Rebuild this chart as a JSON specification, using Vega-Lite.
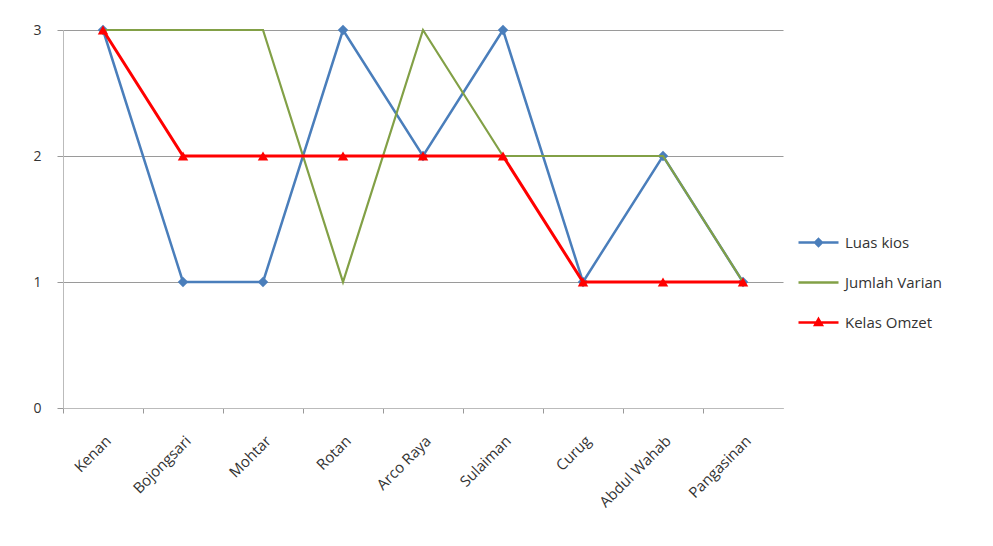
{
  "$schema": "https://vega.github.io/schema/vega-lite/v6.json",
  "width": 720,
  "height": 378,
  "autosize": {"type": "none"},
  "padding": {"left": 63, "top": 30, "right": 210, "bottom": 138},
  "background": "white",
  "config": {
    "view": {"stroke": null},
    "font": "Open Sans",
    "axis": {"labelFont": "Open Sans", "labelColor": "#333", "labelFontSize": 15}
  },
  "data": {
    "values": [
      {"kios": "Kenan", "series": "Luas kios", "v": 3},
      {"kios": "Bojongsari", "series": "Luas kios", "v": 1},
      {"kios": "Mohtar", "series": "Luas kios", "v": 1},
      {"kios": "Rotan", "series": "Luas kios", "v": 3},
      {"kios": "Arco Raya", "series": "Luas kios", "v": 2},
      {"kios": "Sulaiman", "series": "Luas kios", "v": 3},
      {"kios": "Curug", "series": "Luas kios", "v": 1},
      {"kios": "Abdul Wahab", "series": "Luas kios", "v": 2},
      {"kios": "Pangasinan", "series": "Luas kios", "v": 1},
      {"kios": "Kenan", "series": "Jumlah Varian", "v": 3},
      {"kios": "Bojongsari", "series": "Jumlah Varian", "v": 3},
      {"kios": "Mohtar", "series": "Jumlah Varian", "v": 3},
      {"kios": "Rotan", "series": "Jumlah Varian", "v": 1},
      {"kios": "Arco Raya", "series": "Jumlah Varian", "v": 3},
      {"kios": "Sulaiman", "series": "Jumlah Varian", "v": 2},
      {"kios": "Curug", "series": "Jumlah Varian", "v": 2},
      {"kios": "Abdul Wahab", "series": "Jumlah Varian", "v": 2},
      {"kios": "Pangasinan", "series": "Jumlah Varian", "v": 1},
      {"kios": "Kenan", "series": "Kelas Omzet", "v": 3},
      {"kios": "Bojongsari", "series": "Kelas Omzet", "v": 2},
      {"kios": "Mohtar", "series": "Kelas Omzet", "v": 2},
      {"kios": "Rotan", "series": "Kelas Omzet", "v": 2},
      {"kios": "Arco Raya", "series": "Kelas Omzet", "v": 2},
      {"kios": "Sulaiman", "series": "Kelas Omzet", "v": 2},
      {"kios": "Curug", "series": "Kelas Omzet", "v": 1},
      {"kios": "Abdul Wahab", "series": "Kelas Omzet", "v": 1},
      {"kios": "Pangasinan", "series": "Kelas Omzet", "v": 1}
    ]
  },
  "encoding": {
    "x": {
      "field": "kios", "type": "nominal", "sort": null,
      "scale": {"type": "point", "padding": 0.5},
      "axis": {"title": null, "labelAngle": -45, "domainColor": "#bbb", "tickColor": "#999", "tickSize": 5, "tickOffset": -40, "labelOffset": 40, "labelPadding": 20, "grid": false}
    },
    "y": {
      "field": "v", "type": "quantitative",
      "scale": {"domain": [0, 3], "nice": false},
      "axis": {"title": null, "values": [0, 1, 2, 3], "format": "d", "grid": true, "gridColor": "#9a9a9a", "gridWidth": 1.2, "domainColor": "#bbb", "tickColor": "#999", "tickSize": 6, "labelPadding": 16, "labelFontSize": 14}
    },
    "color": {
      "field": "series", "type": "nominal",
      "scale": {"domain": ["Luas kios", "Jumlah Varian", "Kelas Omzet"], "range": ["#4a7ebb", "#82a046", "#ff0000"]},
      "legend": {
        "title": null, "orient": "none", "legendX": 734, "legendY": 191,
        "symbolType": "stroke", "symbolSize": 1600, "symbolStrokeWidth": 2.5,
        "labelFontSize": 15, "labelColor": "#333", "labelFont": "Open Sans", "rowPadding": 10, "labelOffset": 5,
        "encode": {
          "symbols": {
            "update": {
              "shape": {"signal": "datum.value == 'Luas kios' ? 'M-1,0L1,0M0,-0.17L0.17,0L0,0.17L-0.17,0Z' : datum.value == 'Kelas Omzet' ? 'M-1,0L1,0M0,-0.17L0.17,0.13L-0.17,0.13Z' : 'M-1,0L1,0'"},
              "fill": {"scale": "color", "field": "value"},
              "fillOpacity": {"value": 1}
            }
          }
        }
      }
    },
    "order": {"field": "series"}
  },
  "layer": [
    {
      "transform": [{"filter": "datum.series == 'Luas kios'"}],
      "mark": {"type": "line", "strokeWidth": 2.5}
    },
    {
      "transform": [{"filter": "datum.series == 'Luas kios'"}],
      "mark": {"type": "point", "shape": "diamond", "filled": true, "size": 110, "opacity": 1}
    },
    {
      "transform": [{"filter": "datum.series == 'Jumlah Varian'"}],
      "mark": {"type": "line", "strokeWidth": 2.2}
    },
    {
      "transform": [{"filter": "datum.series == 'Kelas Omzet'"}],
      "mark": {"type": "line", "strokeWidth": 3}
    },
    {
      "transform": [{"filter": "datum.series == 'Kelas Omzet'"}],
      "mark": {"type": "point", "shape": "triangle-up", "filled": true, "size": 110, "opacity": 1}
    }
  ]
}
